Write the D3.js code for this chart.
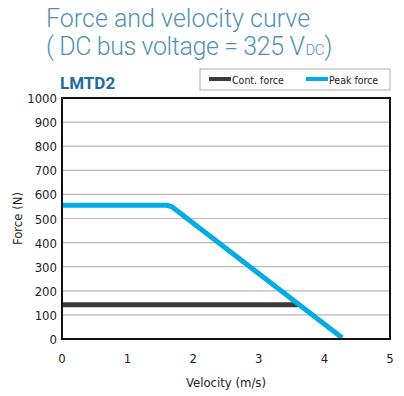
<!DOCTYPE html>
<html>
<head>
<meta charset="utf-8">
<script src="https://cdn.jsdelivr.net/npm/d3@7"></script>
<style>
  body { margin: 0; background: #fff; }
  svg { display: block; }
</style>
</head>
<body>
<svg id="chart" width="404" height="396"></svg>
<script>
// velocity (m/s) / force (N)
const peakVelocity = [0, 1.6, 1.68, 4.27];
const peakForce = [555, 555, 548, 5];
const contVelocity = [0, 3.6];
const contForce = [142, 142];
const xTicks = [0, 1, 2, 3, 4, 5];
const yTicks = [0, 100, 200, 300, 400, 500, 600, 700, 800, 900, 1000];
const legendItems = [
  { name: 'Cont. force', color: '#3d3a39' },
  { name: 'Peak force', color: '#00ade6' }
];

const svg = d3.select('#chart');
const margin = { left: 62, right: 14, top: 98, bottom: 57 };
const width = 404 - margin.left - margin.right;
const height = 396 - margin.top - margin.bottom;
const font = 'DejaVu Sans Condensed, Roboto, sans-serif';

const x = d3.scaleLinear().domain([0, 5]).range([0, width]);
const y = d3.scaleLinear().domain([0, 1000]).range([height, 0]);

// titles
svg.append('text')
  .attr('x', 46).attr('y', 27)
  .attr('fill', '#4f93b5')
  .attr('font-family', 'Roboto, sans-serif').attr('font-weight', 300)
  .attr('font-size', 25)
  .text('Force and velocity curve');

const t2 = svg.append('text')
  .attr('x', 46).attr('y', 55)
  .attr('fill', '#4f93b5')
  .attr('font-family', 'Roboto, sans-serif').attr('font-weight', 300)
  .attr('font-size', 25)
  .attr('letter-spacing', -0.4);
t2.append('tspan').text('( DC bus voltage = 325 V');
t2.append('tspan').attr('dx', 1).attr('font-size', 15).text('DC');
t2.append('tspan').text(')');

svg.append('text')
  .attr('x', 60).attr('y', 89)
  .attr('fill', '#1a6ea3')
  .attr('font-family', 'Roboto, sans-serif').attr('font-weight', 700)
  .attr('font-size', 17)
  .text('LMTD2');

// legend
const lg = svg.append('g').attr('transform', 'translate(200,69)');
lg.append('rect')
  .attr('width', 190).attr('height', 21)
  .attr('fill', '#fff').attr('stroke', '#b0b0b0');
legendItems.forEach((d, i) => {
  const gx = 9 + i * 97;
  lg.append('rect')
    .attr('x', gx).attr('y', 8).attr('width', 22).attr('height', 4)
    .attr('fill', d.color);
  lg.append('text')
    .attr('x', gx + 23).attr('y', 15)
    .attr('font-family', font).attr('font-size', 10.5)
    .attr('fill', '#222')
    .text(d.name);
});

const g = svg.append('g').attr('transform', `translate(${margin.left},${margin.top})`);

// grid
g.selectAll('line.grid')
  .data(yTicks.filter(d => d > 0 && d < 1000))
  .join('line')
  .attr('class', 'grid')
  .attr('x1', 0).attr('x2', width)
  .attr('y1', d => y(d)).attr('y2', d => y(d))
  .attr('stroke', '#b8b8b8').attr('stroke-width', 1.2);

// axes labels
g.selectAll('text.ytick')
  .data(yTicks)
  .join('text')
  .attr('class', 'ytick')
  .attr('x', -5).attr('y', d => y(d) + 5)
  .attr('text-anchor', 'end')
  .attr('font-family', font).attr('font-size', 13)
  .attr('fill', '#222')
  .text(d => d);

g.selectAll('text.xtick')
  .data(xTicks)
  .join('text')
  .attr('class', 'xtick')
  .attr('x', d => x(d)).attr('y', height + 24)
  .attr('text-anchor', 'middle')
  .attr('font-family', font).attr('font-size', 13)
  .attr('fill', '#222')
  .text(d => d);

svg.append('text')
  .attr('x', margin.left + x(2.5)).attr('y', 387)
  .attr('text-anchor', 'middle')
  .attr('font-family', font).attr('font-size', 13)
  .attr('fill', '#222')
  .text('Velocity (m/s)');

svg.append('text')
  .attr('transform', `translate(22,${margin.top + y(500)}) rotate(-90)`)
  .attr('text-anchor', 'middle')
  .attr('font-family', font).attr('font-size', 13)
  .attr('fill', '#222')
  .text('Force (N)');

// lines
const line = d3.line()
  .x(d => x(d[0]))
  .y(d => y(d[1]));

g.append('path')
  .attr('fill', 'none')
  .attr('stroke', legendItems[0].color)
  .attr('stroke-width', 5)
  .attr('d', line(d3.zip(contVelocity, contForce)));

g.append('path')
  .attr('fill', 'none')
  .attr('stroke', legendItems[1].color)
  .attr('stroke-width', 5)
  .attr('stroke-linejoin', 'round')
  .attr('d', line(d3.zip(peakVelocity, peakForce)));

// frame
g.append('rect')
  .attr('width', width).attr('height', height)
  .attr('fill', 'none')
  .attr('stroke', '#111').attr('stroke-width', 2);
</script>
</body>
</html>
